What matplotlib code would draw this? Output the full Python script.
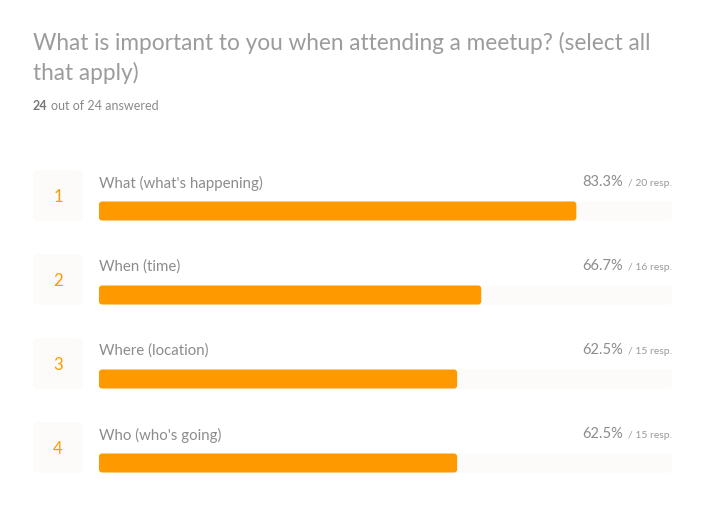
import matplotlib
matplotlib.use("Agg")
import matplotlib.pyplot as plt
from matplotlib.patches import FancyBboxPatch

plt.rcParams['font.family'] = ['Lato', 'DejaVu Sans']

# data
title = "What is important to you when attending a meetup? (select all\nthat apply)"
answered = 24
total = 24
options = ["What (what's happening)", "When (time)", "Where (location)", "Who (who's going)"]
percents = [83.3, 66.7, 62.5, 62.5]
responses = [20, 16, 15, 15]

ORANGE = "#ff9900"
TRACK = "#fcfbf9"
GREY = "#8c8c8c"

W, H = 706, 508
fig = plt.figure(figsize=(W / 100, H / 100), dpi=100)

# background axes in pixel coords for title and number boxes
bg = fig.add_axes([0, 0, 1, 1])
bg.set_xlim(0, W)
bg.set_ylim(H, 0)
bg.axis("off")

bg.text(33, 58, title, fontsize=16.3, color="#9c9c9c", va="center", ha="left",
        linespacing=1.45)
t24 = bg.text(33, 106, f"{answered}", fontsize=9, color="#777777", fontweight="bold",
              va="center", ha="left")
bg.annotate(f"out of {total} answered", xy=(1, 0.5), xycoords=t24, xytext=(2.5, 0),
            textcoords="offset points", fontsize=9, color="#8a8a8a",
            va="center", ha="left")

row0, step = 211, 84
for i in range(len(options)):
    cy = row0 + step * i - 15.5
    box = FancyBboxPatch((33, cy - 25.5), 50, 51, boxstyle="round,pad=0,rounding_size=6",
                         fc=TRACK, ec="none")
    bg.add_patch(box)
    bg.text(58, cy + 1, str(i + 1), fontsize=12, color=ORANGE, ha="center", va="center")

# bar axes: x 0-100 %, one row per option
top_px, bot_px = row0 - step / 2, row0 + step * (len(options) - 0.5)
ax = fig.add_axes([99 / W, 1 - bot_px / H, (672 - 99) / W, (bot_px - top_px) / H])
ax.set_xlim(0, 100)
ax.set_ylim(len(options) - 0.5, -0.5)
ax.axis("off")

ys = list(range(len(options)))
bh = 19 / step
track = ax.barh(ys, [100] * len(ys), height=bh, color=TRACK)
bars = ax.barh(ys, percents, height=bh, color=ORANGE)

# swap plain rectangles for rounded ones
px_x = (672 - 99) / 100
asp = (1 / step) / (1 / px_x)
for group, col in ((track, TRACK), (bars, ORANGE)):
    for p in group.patches:
        p.set_visible(False)
        rb = FancyBboxPatch((p.get_x(), p.get_y()), p.get_width(), p.get_height(),
                            boxstyle=f"round,pad=0,rounding_size={3 / px_x}",
                            mutation_aspect=asp, fc=col, ec="none")
        ax.add_patch(rb)

lab_off = 28 / step
for i, (name, pct, n) in enumerate(zip(options, percents, responses)):
    ax.text(0, i - lab_off, name, fontsize=10.8, color=GREY, ha="left", va="center")
    t = ax.text(100, i - lab_off + 0.01, f"/ {n} resp.", fontsize=7.5, color="#9a9a9a",
                ha="right", va="center")
    ax.annotate(f"{pct:.1f}%", xy=(0, 0.5), xycoords=t, xytext=(-3.5, 1),
                textcoords="offset points", fontsize=10.5, color=GREY,
                ha="right", va="center")

fig.savefig("out.png", dpi=100)
